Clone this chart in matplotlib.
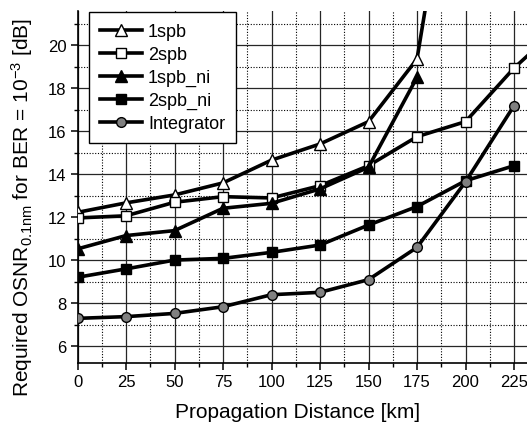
import matplotlib
matplotlib.use("Agg")
import matplotlib.pyplot as plt
from matplotlib.ticker import MultipleLocator

plt.rcParams['font.family'] = ['Liberation Sans', 'DejaVu Sans']
plt.rcParams['mathtext.fontset'] = 'custom'
plt.rcParams['mathtext.rm'] = 'Liberation Sans'
plt.rcParams['mathtext.it'] = 'Liberation Sans'

distance = [0, 25, 50, 75, 100, 125, 150, 175, 200, 225, 250]
spb1 = [12.23, 12.67, 13.04, 13.6, 14.66, 15.41, 16.45, 19.36, 33.0]
spb2 = [11.97, 12.07, 12.7, 12.96, 12.9, 13.47, 14.4, 15.75, 16.45, 18.94, 21.0]
spb1_ni = [10.53, 11.15, 11.38, 12.42, 12.65, 13.32, 14.33, 18.51]
spb2_ni = [9.21, 9.6, 10.01, 10.09, 10.37, 10.71, 11.64, 12.5, 13.7, 14.4]
integrator = [7.3, 7.38, 7.53, 7.84, 8.4, 8.51, 9.1, 10.6, 13.65, 17.19]
labels = ['1spb', '2spb', '1spb_ni', '2spb_ni', 'Integrator']
xticks = [0, 25, 50, 75, 100, 125, 150, 175, 200, 225]
yticks = [6, 8, 10, 12, 14, 16, 18, 20]

W, H = 527, 427
fig = plt.figure(figsize=(W / 100, H / 100), dpi=100)
left, bottom, top = 77.5, 63, 12
ax = fig.add_axes([left / W, bottom / H, (W - left) / W, (H - bottom - top) / H])

series = [spb1, spb2, spb1_ni, spb2_ni, integrator]
styles = [
    dict(marker='^', mfc='white', ms=8),
    dict(marker='s', mfc='white', ms=7),
    dict(marker='^', mfc='black', ms=8),
    dict(marker='s', mfc='black', ms=7),
    dict(marker='o', mfc='0.5', ms=7),
]
for vals, lab, st in zip(series, labels, styles):
    ax.plot(distance[:len(vals)], vals, color='black', lw=2.6, mec='black',
            mew=1.0, label=lab, zorder=3, **st)

ax.set_xlim(0, 0 + (W - left) / 48.5 * 25)
ax.set_ylim(6 - 16.7 / 21.5, 20 + (46.3 - top) / 21.5)
ax.set_xticks(xticks)
ax.set_yticks(yticks)
ax.xaxis.set_minor_locator(MultipleLocator(12.5))
ax.yaxis.set_minor_locator(MultipleLocator(1))
ax.grid(which='major', color='0.15', lw=0.9, ls='-', zorder=1)
ax.grid(which='minor', color='black', lw=0.8, ls=(0, (1, 1.5)), zorder=1)
ax.set_axisbelow(True)
for s in ['top', 'right']:
    ax.spines[s].set_visible(False)
for s in ['left', 'bottom']:
    ax.spines[s].set_linewidth(1.2)
ax.tick_params(which='major', direction='out', length=5, width=1.1, labelsize=12, pad=3)
ax.tick_params(which='minor', direction='out', length=3, width=1.0)
ax.tick_params(right=False, top=False)

fig.text(298 / W, 1 - 413 / H, 'Propagation Distance [km]', ha='center', va='center', fontsize=15)
fig.text(22 / W, 1 - 208 / H, r'Required OSNR$_{0.1nm}$ for BER = 10$^{-3}$ [dB]',
         ha='center', va='center', rotation=90, fontsize=15)

leg = ax.legend(loc='upper left', bbox_to_anchor=(89.3 / W, 1 - 13.3 / H),
                bbox_transform=fig.transFigure, borderaxespad=0, fontsize=13,
                frameon=True, fancybox=False, edgecolor='black', framealpha=1,
                handlelength=2.3, handletextpad=0.35, borderpad=0.6, labelspacing=0.33)
leg.get_frame().set_linewidth(1.0)

fig.savefig('out.png', dpi=100)
